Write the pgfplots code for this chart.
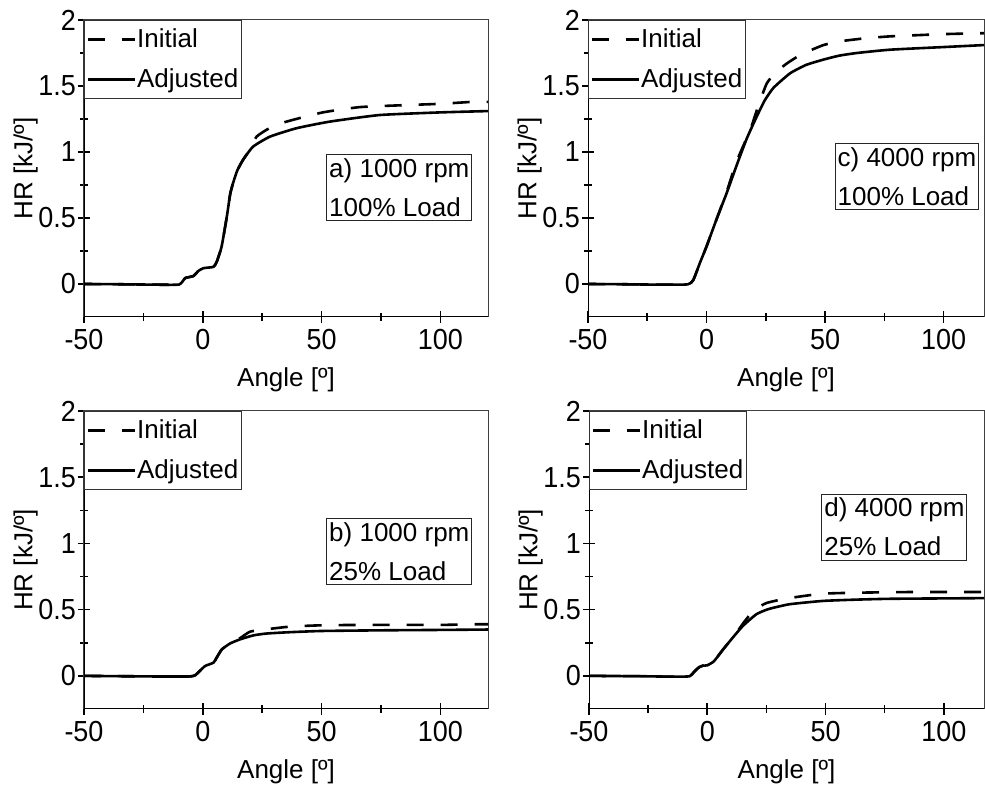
\documentclass[border=0pt]{standalone}
\usepackage{pgfplots}
\pgfplotsset{compat=1.18}
\usepackage{fontspec}
\setmainfont{Liberation Sans}
\newfontfamily\tickfont{Liberation Sans}[FakeStretch=0.93]

\pgfplotsset{
  hrpanel/.style={
    scale only axis,
    anchor=south west,
    xmin=-50, ymin=-0.25, ymax=2,
    xtick={-50,0,50,100}, xticklabels={-50,0,50,100},
    minor xtick={-25,25,75},
    ytick={0,0.5,1,1.5,2}, yticklabels={0,0.5,1,1.5,2},
    minor ytick={0.25,0.75,1.25,1.75},
    tick pos=left, tick align=center,
    major tick length=6pt, minor tick length=4pt,
    every tick/.style={black, line width=0.8pt},
    axis line style={black!75, line width=0.5pt},
    tick label style={font=\tickfont\fontsize{14.5}{16}\selectfont},
    label style={font=\fontsize{13}{15}\selectfont},
    xlabel={Angle [º]}, ylabel={HR [kJ/º]},
    xlabel style={yshift=-2pt},
    ylabel style={yshift=-6.5pt},
    xticklabel style={yshift=0.5pt},
    yticklabel style={xshift=2.5pt},
    legend cell align=left,
    legend image code/.code={\draw[#1, line width=1.3pt] (0pt,0pt) -- (23.5pt,0pt);},
    legend style={at={(0,1)}, anchor=north west, draw=black!80, line width=0.5pt,
      font=\fontsize{13}{15}\selectfont, inner xsep=1pt, inner ysep=2pt,
      row sep=5pt,
      nodes={inner xsep=0.5pt, inner ysep=2pt}},
  },
  ini/.style={black, line width=1.3pt, dash pattern=on 8.5pt off 8.5pt, smooth, tension=0.3},
  adj/.style={black, line width=1.3pt, smooth, tension=0.3},
}
\tikzset{
  note/.style={draw=black!85, line width=0.5pt, anchor=north east, align=left,
    font=\fontsize{13}{19.5}\selectfont, inner xsep=1.2pt, inner ysep=2pt},
}
\newcommand{\thickframe}{%
  \draw[black, line width=1.1pt] (rel axis cs:0,1) -- (rel axis cs:0,0) -- (rel axis cs:1,0);}

\begin{document}
\begin{tikzpicture}
\path (0pt,0pt) rectangle (492.5pt,395.5pt);

% a) 1000 rpm 100% load
\begin{axis}[hrpanel, at={(42pt,237pt)}, width=202pt, height=148.5pt, xmax=120]
\addplot[ini] coordinates {
(-50,0) (-35,-0.002) (-20,-0.005) (-10,-0.004) (-7.4,0.045) (-4,0.06) (-1.8,0.10) (0.3,0.12)
(4.5,0.13) (5.9,0.17) (7.9,0.283) (10.1,0.51) (11.5,0.68) (12.7,0.763) (14.5,0.86) (16.9,0.94)
(19.5,1.01) (22.6,1.116) (28,1.18) (35.2,1.23) (50.5,1.30) (66,1.34) (85,1.355) (100,1.365) (113.6,1.38) (120,1.38)};
\addlegendentry{Initial}
\addplot[adj] coordinates {
(-50,0) (-35,-0.002) (-20,-0.005) (-10,-0.004) (-7.4,0.045) (-4,0.06) (-1.8,0.10) (0.3,0.12)
(4.5,0.13) (5.9,0.17) (7.9,0.283) (10.1,0.51) (11.5,0.68) (12.7,0.763) (14.5,0.86) (16.9,0.94)
(21.1,1.04) (28.2,1.116) (39.4,1.18) (53.4,1.23) (74.4,1.28) (100,1.30) (120,1.31)};
\addlegendentry{Adjusted}
\thickframe
\node[note] at (axis cs:113.4,0.985) {a) 1000 rpm\\100\% Load};
\end{axis}

% c) 4000 rpm 100% load
\begin{axis}[hrpanel, at={(294pt,237pt)}, width=198pt, height=148.5pt, xmax=117]
\addplot[ini] coordinates {
(-50,0) (-35,-0.002) (-20,-0.005) (-8,-0.003) (-5.6,0.03) (-2.8,0.16) (0,0.285) (4.2,0.49)
(8.5,0.70) (12.7,0.93) (18.4,1.167) (22,1.36) (25.4,1.52) (29,1.60) (33.8,1.67) (40,1.74)
(49.3,1.81) (57,1.84) (66.2,1.86) (77.4,1.876) (100,1.893) (117,1.90)};
\addlegendentry{Initial}
\addplot[adj] coordinates {
(-50,0) (-35,-0.002) (-20,-0.005) (-8,-0.003) (-5.6,0.03) (-2.8,0.16) (0,0.285) (4.2,0.49)
(8.5,0.69) (12.7,0.90) (16.9,1.10) (21.2,1.27) (24.5,1.39) (28.2,1.486) (35.2,1.596) (42,1.66)
(49.3,1.70) (56,1.73) (63.4,1.75) (77.4,1.775) (100,1.795) (117,1.81)};
\addlegendentry{Adjusted}
\thickframe
\node[note] at (axis cs:115,1.07) {c) 4000 rpm\\100\% Load};
\end{axis}

% b) 1000 rpm 25% load
\begin{axis}[hrpanel, at={(42pt,41pt)}, width=202pt, height=149pt, xmax=120]
\addplot[ini] coordinates {
(-50,0) (-30,-0.003) (-15,-0.005) (-5.3,-0.004) (-3.2,0.005) (-1.1,0.04) (1,0.075) (4.5,0.10)
(5.9,0.14) (8,0.20) (11.5,0.245) (15.7,0.285) (19.9,0.334) (26.9,0.352) (36.7,0.372) (50,0.382)
(69,0.385) (100,0.385) (115,0.39) (120,0.39)};
\addlegendentry{Initial}
\addplot[adj] coordinates {
(-50,0) (-30,-0.003) (-15,-0.005) (-5.3,-0.004) (-3.2,0.005) (-1.1,0.04) (1,0.075) (4.5,0.10)
(5.9,0.14) (8,0.20) (11.5,0.245) (15.7,0.276) (21.3,0.306) (26.9,0.32) (36.7,0.33) (50,0.339)
(75,0.344) (100,0.347) (120,0.35)};
\addlegendentry{Adjusted}
\thickframe
\node[note] at (axis cs:113.4,1.19) {b) 1000 rpm\\25\% Load};
\end{axis}

% d) 4000 rpm 25% load
\begin{axis}[hrpanel, at={(294.5pt,41pt)}, width=197.5pt, height=149pt, xmax=117]
\addplot[ini] coordinates {
(-50,0) (-30,-0.002) (-15,-0.006) (-7.5,-0.003) (-5.6,0.03) (-3.5,0.065) (-1.8,0.077) (0,0.08)
(2.8,0.11) (6.7,0.20) (11.3,0.30) (15.1,0.395) (17.5,0.45) (20,0.50) (25,0.55) (33.4,0.584) (48.2,0.62)
(63,0.628) (84.5,0.633) (117,0.633)};
\addlegendentry{Initial}
\addplot[adj] coordinates {
(-50,0) (-30,-0.002) (-15,-0.006) (-7.5,-0.003) (-5.6,0.03) (-3.5,0.065) (-1.8,0.077) (0,0.08)
(2.8,0.11) (6.7,0.20) (11.3,0.30) (15.1,0.378) (20.8,0.466) (26,0.505) (34.8,0.541) (48.9,0.566)
(63.4,0.576) (77,0.582) (100,0.585) (117,0.587)};
\addlegendentry{Adjusted}
\thickframe
\node[note] at (axis cs:110,1.376) {d) 4000 rpm\\25\% Load};
\end{axis}
\end{tikzpicture}
\end{document}
